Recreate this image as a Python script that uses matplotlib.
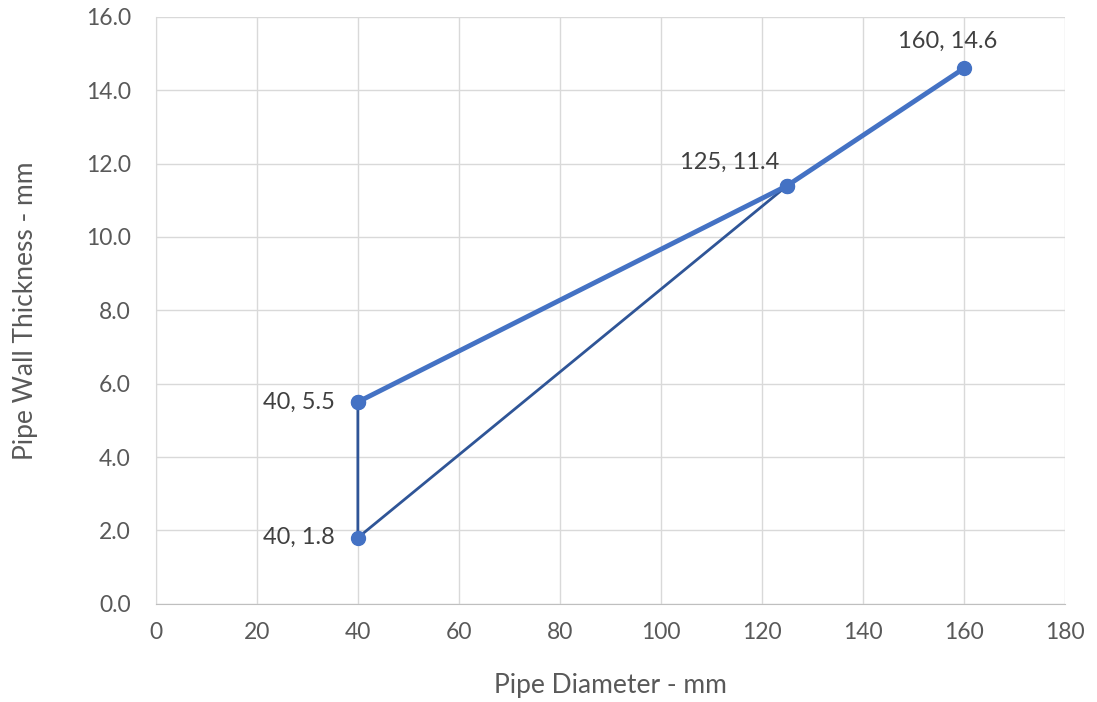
import matplotlib.pyplot as plt

plt.rcParams['font.family'] = ['Lato', 'DejaVu Sans']

# series 1: thick line
x_main = [40, 125, 160]
y_main = [5.5, 11.4, 14.6]
# series 2: thin dark line
x_second = [40, 40, 125]
y_second = [5.5, 1.8, 11.4]

label_points = [(40, 5.5), (40, 1.8), (125, 11.4), (160, 14.6)]

fig = plt.figure(figsize=(10.97, 7.02), dpi=100)
ax = fig.add_axes([0.142, 0.140, 0.829, 0.836])

ax.plot(x_second, y_second, color='#2F5597', lw=2.0, zorder=3)
ax.plot(x_main, y_main, color='#4472C4', lw=3.5, zorder=4,
        marker='o', markersize=10)
ax.plot(x_second, y_second, color='#4472C4', lw=0, zorder=5,
        marker='o', markersize=10)

ax.set_xlim(0, 180)
ax.set_ylim(0, 16)
ax.set_xticks(range(0, 181, 20))
ax.set_yticks(range(0, 17, 2))
ax.set_yticklabels([f'{v:.1f}' for v in range(0, 17, 2)])
ax.grid(True, color='#D9D9D9', lw=1)
ax.set_axisbelow(True)
for s in ax.spines.values():
    s.set_visible(False)
ax.spines['left'].set_visible(True)
ax.spines['bottom'].set_visible(True)
ax.spines['left'].set_color('#D9D9D9')
ax.spines['bottom'].set_color('#BFBFBF')
ax.tick_params(length=0, labelsize=16.5, colors='#595959')
ax.tick_params(axis='y', pad=18)
ax.tick_params(axis='x', pad=13)

ax.set_xlabel('Pipe Diameter - mm', fontsize=19, color='#595959', labelpad=22)
ax.set_ylabel('Pipe Wall Thickness - mm', fontsize=19, color='#595959', labelpad=34)

offsets = {(40, 5.5): (-23, 0, 'right', 'center'),
           (40, 1.8): (-23, 0, 'right', 'center'),
           (125, 11.4): (-8, 13, 'right', 'bottom'),
           (160, 14.6): (-16, 16, 'center', 'bottom')}
for px, py in label_points:
    dx, dy, ha, va = offsets[(px, py)]
    ax.annotate(f'{px}, {py}', (px, py), xytext=(dx, dy), textcoords='offset pixels',
                ha=ha, va=va, fontsize=17, color='#404040')

fig.savefig('out.png', dpi=100)
